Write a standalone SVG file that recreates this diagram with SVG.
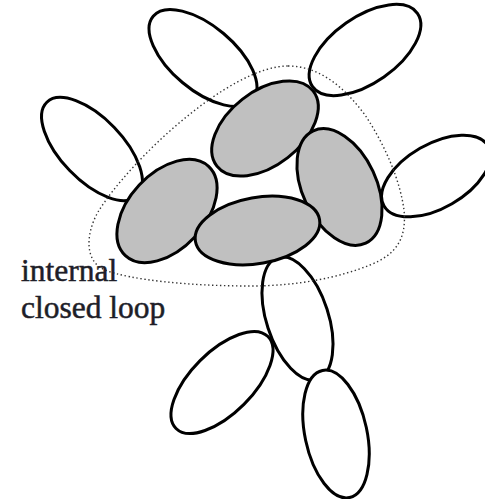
<svg xmlns="http://www.w3.org/2000/svg" width="485" height="499" viewBox="0 0 485 499">
  <style>
    .ring { fill: #ffffff; stroke: #000000; stroke-width: 3; }
    .core { fill: #c0c0c0; stroke: #000000; stroke-width: 3; }
    .loop { fill: none; stroke: #333333; stroke-width: 1.4; stroke-dasharray: 1.4 2.6; stroke-linecap: butt; }
    .label { font-family: "Liberation Serif", "Times New Roman", serif; font-size: 31.5px; fill: #1e1e28; stroke: #1e1e28; stroke-width: 0.5; }
  </style>
  <rect width="485" height="499" fill="#ffffff"/>

  <!-- outer (white) elements -->
  <g id="outer-top-left"><ellipse class="ring" cx="0" cy="0" rx="65" ry="32" transform="translate(203 58) rotate(40)"/></g>
  <g id="outer-top-right"><ellipse class="ring" cx="0" cy="0" rx="64" ry="33" transform="translate(365 50) rotate(-35)"/></g>
  <g id="outer-left"><ellipse class="ring" cx="0" cy="0" rx="65" ry="31" transform="translate(92 149) rotate(46)"/></g>
  <g id="outer-right"><ellipse class="ring" cx="0" cy="0" rx="60" ry="32" transform="translate(436 176) rotate(-30)"/></g>
  <g id="outer-lower-mid"><ellipse class="ring" cx="0" cy="0" rx="64" ry="31" transform="translate(297.5 318.5) rotate(72)"/></g>
  <g id="outer-lower-left"><ellipse class="ring" cx="0" cy="0" rx="65" ry="31" transform="translate(222 382.5) rotate(-45)"/></g>
  <g id="outer-bottom"><ellipse class="ring" cx="0" cy="0" rx="65" ry="31" transform="translate(336 434) rotate(78)"/></g>

  <!-- closed loop (grey) elements -->
  <g id="core-top"><ellipse class="core" cx="0" cy="0" rx="61" ry="37" transform="translate(265 128.5) rotate(-38)"/></g>
  <g id="core-right"><ellipse class="core" cx="0" cy="0" rx="62" ry="37" transform="translate(339.5 187) rotate(65)"/></g>
  <g id="core-left"><ellipse class="core" cx="0" cy="0" rx="61" ry="38" transform="translate(167 211) rotate(-47)"/></g>
  <g id="core-bottom"><ellipse class="core" cx="0" cy="0" rx="63" ry="33" transform="translate(257.5 230.5) rotate(-10)"/></g>

  <!-- dotted boundary of the internal loop -->
  <g id="connectors">
    <path class="loop" d="M 288,66 C 320,66 345,88 365,115 C 385,145 400,180 404,210 C 407,240 395,255 370,265 C 340,277 300,286 250,286 C 190,286 130,280 105,270 C 85,262 85,235 98,212 C 130,160 230,66 288,66 Z"/>
  </g>

  <g id="label">
    <text class="label" x="21" y="281">internal</text>
    <text class="label" x="21" y="318">closed loop</text>
  </g>
</svg>
